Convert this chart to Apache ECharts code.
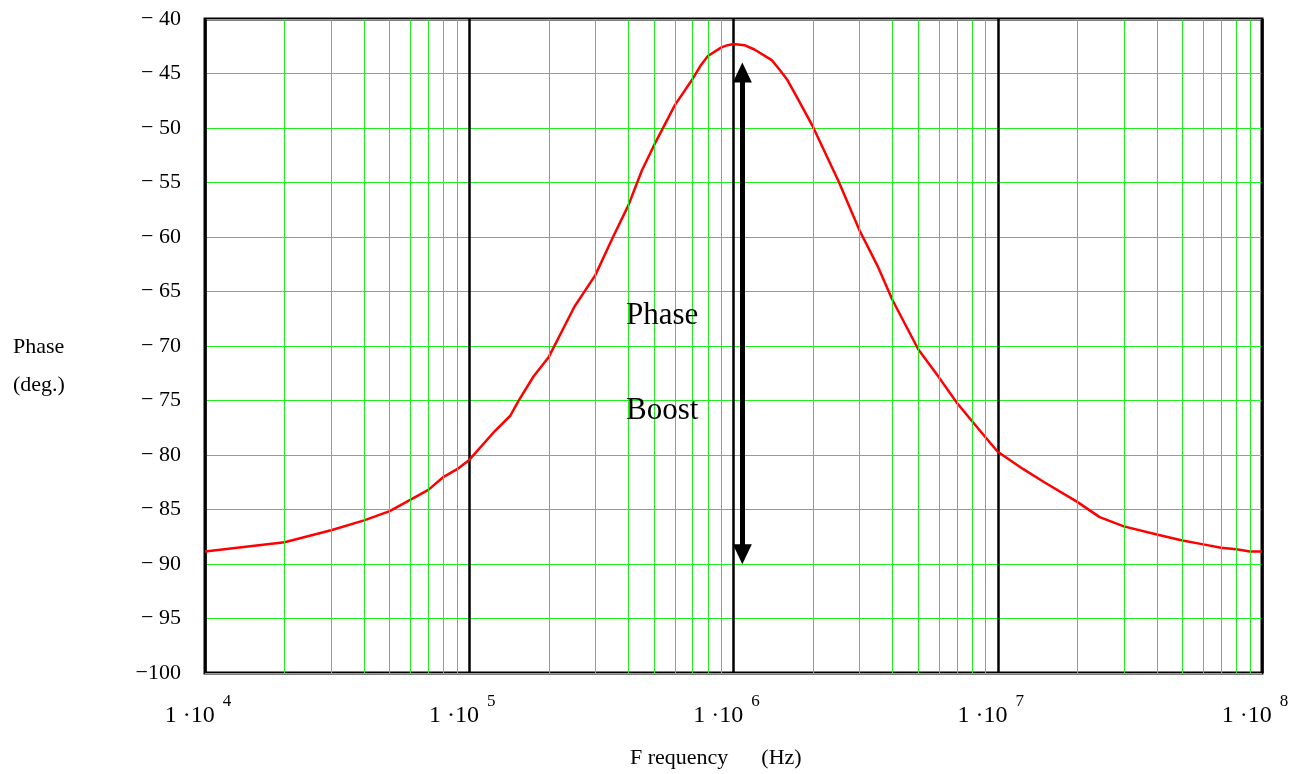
<!DOCTYPE html>
<html>
<head>
<meta charset="utf-8">
<title>Phase</title>
<script src="https://cdn.jsdelivr.net/npm/echarts@6/dist/echarts.min.js"></script>
<style>
  html, body { margin: 0; padding: 0; background: #fff; }
  #chart { width: 1295px; height: 774px; }
</style>
</head>
<body>
<div id="chart"></div>
<script>
// data
const freqHz = [
  1e4, 2e4, 3e4, 4e4, 5e4, 6e4, 7e4, 8e4, 9e4,
  1e5, 1.25e5, 1.43e5, 1.53e5, 1.75e5, 2e5, 2.5e5, 3e5, 3.5e5, 4e5, 4.5e5, 5e5, 6e5, 7e5, 7.5e5, 8e5, 9e5, 9.5e5,
  1e6, 1.1e6, 1.2e6, 1.4e6, 1.5e6, 1.6e6, 1.75e6, 2e6, 2.5e6, 3e6, 3.5e6, 4e6, 5e6, 6e6, 7e6, 8e6, 9e6,
  1e7, 1.25e7, 1.5e7, 2e7, 2.43e7, 3e7, 4e7, 5e7, 6e7, 7e7, 8e7, 9e7, 1e8
]
const phaseDeg = [
  -88.85, -88.0, -86.9, -86.0, -85.15, -84.1, -83.2, -82.0, -81.3,
  -80.45, -77.8, -76.4, -75.1, -72.8, -71.0, -66.4, -63.5, -60.0, -57.1, -53.9, -51.6, -47.9, -45.5, -44.3, -43.4, -42.6, -42.4,
  -42.3, -42.4, -42.8, -43.8, -44.7, -45.6, -47.3, -49.9, -54.9, -59.4, -62.6, -65.8, -70.3, -72.9, -75.2, -76.9, -78.4,
  -79.7, -81.3, -82.5, -84.3, -85.7, -86.55, -87.3, -87.85, -88.2, -88.5, -88.65, -88.85, -88.85
]
// green lines between the decades (2..9 x 10^n)
const minorFreqs = [
  2e4, 3e4, 4e4, 5e4, 6e4, 7e4, 8e4, 9e4,
  2e5, 3e5, 4e5, 5e5, 6e5, 7e5, 8e5, 9e5,
  2e6, 3e6, 4e6, 5e6, 6e6, 7e6, 8e6, 9e6,
  2e7, 3e7, 4e7, 5e7, 6e7, 7e7, 8e7, 9e7
]
// "phase boost" arrow
const arrowFreq = 1.08e6
const arrowPhase = [-89.1, -44.9]

const serif = "'Liberation Serif', 'Times New Roman', serif"
const gridGreen = '#1fef1f'

const chart = echarts.init(document.getElementById('chart'), null, { renderer: 'canvas' })

chart.setOption({
  animation: false,
  backgroundColor: '#fff',
  grid: {
    left: 205,
    right: 33,
    top: 19,
    bottom: 101,
    show: true,
    borderColor: '#000',
    borderWidth: 3,
    containLabel: false,
    outerBoundsMode: 'none'
  },
  xAxis: {
    type: 'log',
    logBase: 10,
    min: 1e4,
    max: 1e8,
    axisLine: { show: false },
    axisTick: { show: false },
    splitLine: { show: true, lineStyle: { color: '#000', width: 2.5 } },
    axisLabel: {
      margin: 20,
      formatter(v) {
        return '{m|1 \u00b710}{s|' + Math.round(Math.log10(v)) + '}'
      },
      rich: {
        // tall line box so the exponent can sit at its top
        m: { fontFamily: serif, fontSize: 24, color: '#000', lineHeight: 35, verticalAlign: 'bottom' },
        s: { fontFamily: serif, fontSize: 17, color: '#000', lineHeight: 17, verticalAlign: 'top',
             padding: [0, 14, 0, 8] }
      }
    }
  },
  yAxis: {
    type: 'value',
    min: -100,
    max: -40,
    interval: 5,
    axisLine: { show: false },
    axisTick: { show: false },
    splitLine: { show: true, lineStyle: { color: gridGreen, width: 1.2 } },
    axisLabel: {
      margin: 24,
      fontFamily: serif,
      fontSize: 22,
      color: '#000',
      formatter(v) {
        return v === -100 ? '\u2212100' : '\u2212 ' + Math.abs(v)
      }
    }
  },
  graphic: [
    { type: 'text', left: 630, top: 747,
      style: { text: 'F requency      (Hz)', font: '22px ' + serif, fill: '#000' } },
    { type: 'text', left: 13, top: 336,
      style: { text: 'Phase', font: '22px ' + serif, fill: '#000' } },
    { type: 'text', left: 13, top: 374,
      style: { text: '(deg.)', font: '22px ' + serif, fill: '#000' } },
    { type: 'text', left: 626, top: 300, z: 10,
      style: { text: 'Phase', font: '31px ' + serif, fill: '#000' } },
    { type: 'text', left: 626, top: 395, z: 10,
      style: { text: 'Boost', font: '31px ' + serif, fill: '#000' } }
  ],
  series: [
    {
      // minor vertical grid
      type: 'line',
      data: [],
      z: 1,
      markLine: {
        silent: true,
        symbol: 'none',
        label: { show: false },
        lineStyle: { color: gridGreen, width: 1, type: 'solid' },
        data: minorFreqs.map(f => ({ xAxis: f }))
      }
    },
    {
      name: 'Phase',
      type: 'line',
      data: freqHz.map((f, i) => [f, phaseDeg[i]]),
      showSymbol: false,
      z: 3,
      lineStyle: { color: '#ff0000', width: 2.5 }
    },
    {
      // double arrow
      type: 'line',
      data: [],
      z: 4,
      markLine: {
        silent: true,
        symbol: ['triangle', 'triangle'],
        symbolSize: [19, 20],
        label: { show: false },
        lineStyle: { color: '#000', width: 5, type: 'solid' },
        data: [[
          { coord: [arrowFreq, arrowPhase[0]] },
          { coord: [arrowFreq, arrowPhase[1]] }
        ]]
      }
    }
  ]
})
</script>
</body>
</html>
